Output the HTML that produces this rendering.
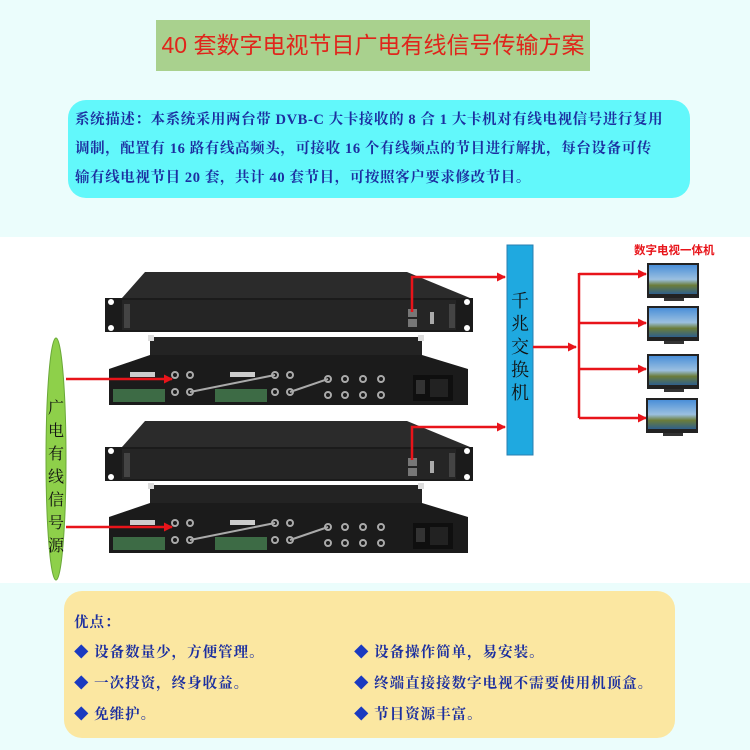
<!DOCTYPE html>
<html><head><meta charset="utf-8"><style>
*{margin:0;padding:0;box-sizing:border-box}
body{width:750px;height:750px;background:#ebfdfc;position:relative;overflow:hidden;font-family:"Liberation Serif","Noto Serif CJK SC",serif}
.a{position:absolute}
#title{left:156px;top:20px;width:434px;height:51px;background:#a9d18e;color:#e0251b;font-family:"Liberation Sans","Noto Sans CJK SC",sans-serif;font-size:23px;text-align:center;line-height:51px}
#desc{left:68px;top:100px;width:622px;height:98px;background:#62f8fb;border-radius:18px;color:#1c2fa0;font-weight:bold;font-size:14.5px;line-height:29px;padding:6px 0 0 7px;letter-spacing:0.6px}
#band{left:0;top:237px;width:750px;height:346px;background:#fff}
#adv{left:64px;top:591px;width:611px;height:147px;background:#fbe7a1;border-radius:18px;color:#1c2fa0;font-weight:bold;font-size:14.5px}
#adv div{position:absolute;white-space:nowrap;letter-spacing:1px}
</style></head><body>
<div class="a" id="title">40 套数字电视节目广电有线信号传输方案</div>
<div class="a" id="desc">系统描述：本系统采用两台带 DVB-C 大卡接收的 8 合 1 大卡机对有线电视信号进行复用<br>调制，配置有 16 路有线高频头，可接收 16 个有线频点的节目进行解扰，每台设备可传<br>输有线电视节目 20 套，共计 40 套节目，可按照客户要求修改节目。</div>
<div class="a" id="band"></div>
<svg class="a" style="left:0;top:0" width="750" height="750">
<defs>
<linearGradient id="tv" x1="0" y1="0" x2="0" y2="1"><stop offset="0" stop-color="#4a8fd8"/><stop offset="0.5" stop-color="#9bc0e0"/><stop offset="0.7" stop-color="#6b7d3a"/><stop offset="1" stop-color="#2f5f8a"/></linearGradient>
<marker id="ar" markerWidth="9" markerHeight="9" refX="8" refY="4.5" orient="auto" markerUnits="userSpaceOnUse"><path d="M0,0L9,4.5L0,9z" fill="#e8141a"/></marker>
<g id="front">
<polygon points="122,0 145,-26 407,-26 470,0" fill="#2b2b2b"/>
<rect x="105" y="0" width="368" height="34" fill="#1b1b1b"/>
<rect x="122" y="2" width="334" height="30" fill="#252525"/>
<circle cx="111" cy="4" r="3" fill="#fff"/><circle cx="467" cy="4" r="3" fill="#fff"/>
<circle cx="111" cy="30" r="3" fill="#fff"/><circle cx="467" cy="30" r="3" fill="#fff"/>
<rect x="408" y="11" width="9" height="8" fill="#777"/><rect x="408" y="21" width="9" height="8" fill="#777"/>
<rect x="430" y="14" width="4" height="12" fill="#aaa"/>
<rect x="449" y="6" width="6" height="24" fill="#444"/><rect x="124" y="6" width="6" height="24" fill="#444"/>
</g>
<g id="rear">
<rect x="150" y="0" width="272" height="18" fill="#232323"/>
<rect x="148" y="-2" width="6" height="6" fill="#ddd"/><rect x="418" y="-2" width="6" height="6" fill="#ddd"/>
<polygon points="150,18 422,18 468,32 468,68 109,68 109,32" fill="#1b1b1b"/>
<rect x="113" y="52" width="52" height="13" fill="#3d6b45"/><rect x="215" y="52" width="52" height="13" fill="#3d6b45"/>
<rect x="130" y="35" width="25" height="5" fill="#ccc"/><rect x="230" y="35" width="25" height="5" fill="#ccc"/>
<g fill="none" stroke="#aaa" stroke-width="2">
<circle cx="175" cy="38" r="3"/><circle cx="190" cy="38" r="3"/><circle cx="175" cy="55" r="3"/><circle cx="190" cy="55" r="3"/>
<circle cx="275" cy="38" r="3"/><circle cx="290" cy="38" r="3"/><circle cx="275" cy="55" r="3"/><circle cx="290" cy="55" r="3"/>
<circle cx="328" cy="42" r="3"/><circle cx="345" cy="42" r="3"/><circle cx="363" cy="42" r="3"/><circle cx="381" cy="42" r="3"/>
<circle cx="328" cy="58" r="3"/><circle cx="345" cy="58" r="3"/><circle cx="363" cy="58" r="3"/><circle cx="381" cy="58" r="3"/>
<line x1="190" y1="55" x2="275" y2="38"/><line x1="290" y1="55" x2="328" y2="42"/>
</g>
<rect x="413" y="38" width="40" height="26" fill="#0f0f0f"/><rect x="416" y="43" width="9" height="14" fill="#333"/><rect x="430" y="42" width="18" height="18" fill="#222"/>
</g>
</defs>
<use href="#front" x="0" y="298"/>
<use href="#rear" x="0" y="337"/>
<use href="#front" x="0" y="447"/>
<use href="#rear" x="0" y="485"/>
<!-- switch -->
<rect x="507" y="245" width="26" height="210" fill="#1fa9e0" stroke="#2a7fb0"/>
<g font-size="18" text-anchor="middle" font-family="Liberation Serif,Noto Serif CJK SC,serif" fill="#111">
<text x="520" y="307">千</text><text x="520" y="330">兆</text><text x="520" y="353">交</text><text x="520" y="376">换</text><text x="520" y="399">机</text></g>
<!-- source ellipse -->
<ellipse cx="56" cy="459" rx="10" ry="121" fill="#8ed04a" stroke="#6aa838"/>
<g font-size="16" text-anchor="middle" font-family="Liberation Serif,Noto Serif CJK SC,serif" fill="#111">
<text x="56" y="413">广</text><text x="56" y="436">电</text><text x="56" y="459">有</text><text x="56" y="482">线</text><text x="56" y="505">信</text><text x="56" y="528">号</text><text x="56" y="551">源</text></g>
<!-- red connectors -->
<g stroke="#e8141a" stroke-width="2.5" fill="none">
<line x1="66" y1="379" x2="172" y2="379" marker-end="url(#ar)"/>
<line x1="66" y1="527" x2="172" y2="527" marker-end="url(#ar)"/>
<polyline points="412,312 412,277 505,277" marker-end="url(#ar)"/>
<polyline points="412,460 412,427 505,427" marker-end="url(#ar)"/>
<line x1="533" y1="347" x2="576" y2="347" marker-end="url(#ar)"/>
<line x1="579" y1="273" x2="579" y2="418"/>
<line x1="579" y1="274" x2="646" y2="274" marker-end="url(#ar)"/>
<line x1="579" y1="323" x2="646" y2="323" marker-end="url(#ar)"/>
<line x1="579" y1="369" x2="646" y2="369" marker-end="url(#ar)"/>
<line x1="579" y1="418" x2="646" y2="418" marker-end="url(#ar)"/>
</g>
<text x="634" y="254" font-size="11.5" font-family="Liberation Sans,Noto Sans CJK SC,sans-serif" fill="#e8141a" font-weight="bold">数字电视一体机</text>
<g>
<rect x="647" y="263" width="52" height="35" fill="#222"/><rect x="649" y="265" width="48" height="29" fill="url(#tv)"/><rect x="664" y="298" width="20" height="3" fill="#333"/>
<rect x="647" y="306" width="52" height="35" fill="#222"/><rect x="649" y="308" width="48" height="29" fill="url(#tv)"/><rect x="664" y="341" width="20" height="3" fill="#333"/>
<rect x="647" y="354" width="52" height="35" fill="#222"/><rect x="649" y="356" width="48" height="29" fill="url(#tv)"/><rect x="664" y="389" width="20" height="3" fill="#333"/>
<rect x="646" y="398" width="52" height="35" fill="#222"/><rect x="648" y="400" width="48" height="29" fill="url(#tv)"/><rect x="663" y="433" width="20" height="3" fill="#333"/>
</g>
</svg>
<div class="a" id="adv">
<div style="left:10px;top:20px">优点：</div>
<div style="left:10px;top:50px"><span style="color:#1a3ac0">◆</span> 设备数量少，方便管理。</div>
<div style="left:10px;top:81px"><span style="color:#1a3ac0">◆</span> 一次投资，终身收益。</div>
<div style="left:10px;top:112px"><span style="color:#1a3ac0">◆</span> 免维护。</div>
<div style="left:290px;top:50px"><span style="color:#1a3ac0">◆</span> 设备操作简单，易安装。</div>
<div style="left:290px;top:81px"><span style="color:#1a3ac0">◆</span> 终端直接接数字电视不需要使用机顶盒。</div>
<div style="left:290px;top:112px"><span style="color:#1a3ac0">◆</span> 节目资源丰富。</div>
</div>
</body></html>
